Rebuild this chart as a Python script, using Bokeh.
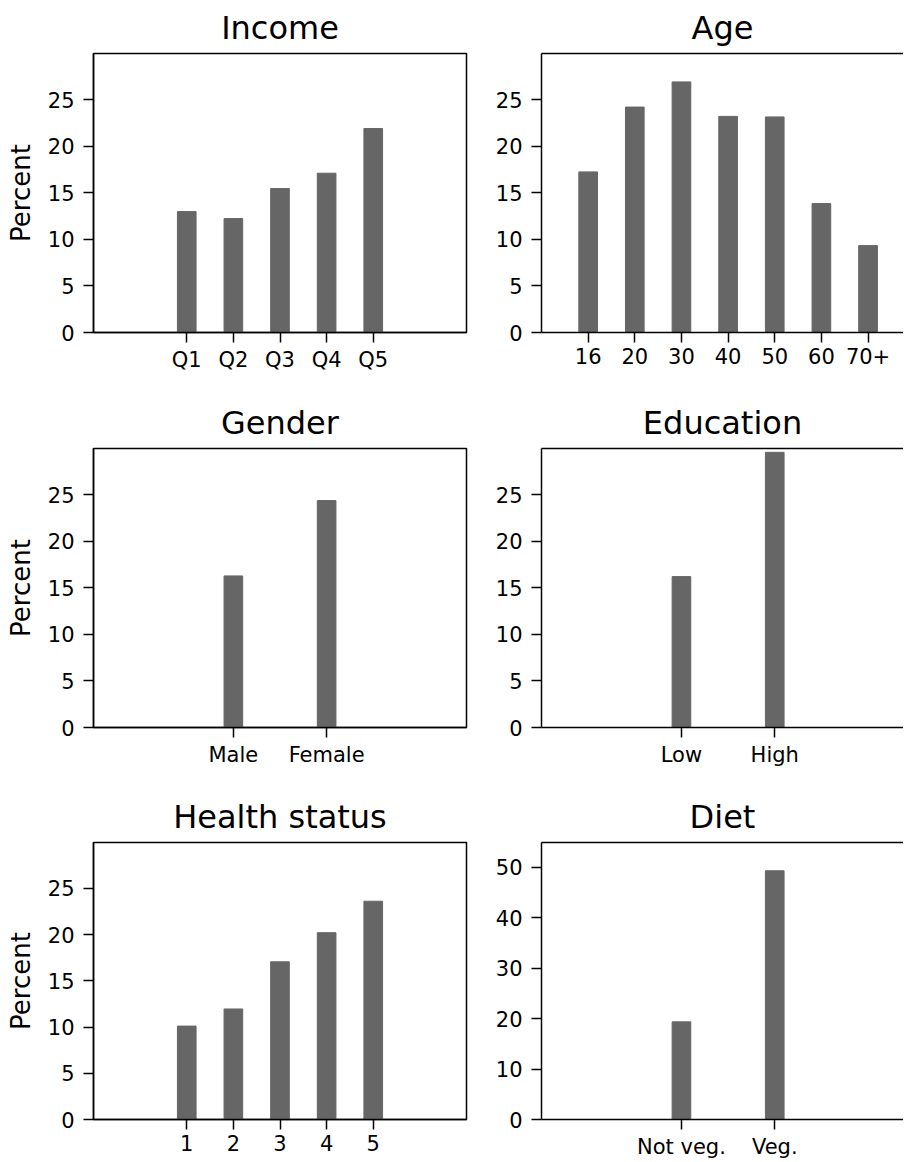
from bokeh.plotting import figure
from bokeh.layouts import column, row
from bokeh.models import FixedTicker, LinearAxis, Range1d
from bokeh.embed import file_html
from bokeh.resources import INLINE

income_labels = ["Q1", "Q2", "Q3", "Q4", "Q5"]
income_values = [12.98, 12.23, 15.45, 17.1, 21.9]
age_labels = ["16", "20", "30", "40", "50", "60", "70+"]
age_values = [17.24, 24.2, 26.9, 23.2, 23.14, 13.84, 9.33]
gender_labels = ["Male", "Female"]
gender_values = [16.27, 24.36]
education_labels = ["Low", "High"]
education_values = [16.2, 29.54]
health_labels = ["1", "2", "3", "4", "5"]
health_values = [10.1, 11.95, 17.05, 20.2, 23.6]
diet_labels = ["Not veg.", "Veg."]
diet_values = [19.35, 49.3]

pct_ticks = [0, 5, 10, 15, 20, 25]
diet_ticks = [0, 10, 20, 30, 40, 50]

FONT = "DejaVu Sans"
BAR = "#666666"


def make(title, labels, values, xr, y_end, yticks, bw, left, height, btop, bbot):
    width = 480 if left else 423
    p = figure(width=width, height=height, output_backend="svg", toolbar_location=None,
               x_range=Range1d(*xr), y_range=Range1d(0, y_end),
               min_border_left=93 if left else 61, min_border_right=14 if left else 0,
               min_border_top=btop, min_border_bottom=bbot, title=title)
    xs = list(range(len(values)))
    p.vbar(x=xs, top=values, width=bw, bottom=0, fill_color=BAR, line_color=BAR)
    p.grid.visible = False
    p.background_fill_color = "white"
    p.border_fill_color = "white"
    xax = p.below[0]
    yax = p.left[0]
    if left:
        p.outline_line_color = "black"
        p.outline_line_width = 1.5
    else:
        p.outline_line_color = None
        top = LinearAxis(ticker=FixedTicker(ticks=[]),
                         axis_line_color="black", axis_line_width=1.5,
                         major_tick_out=0, major_tick_in=0, minor_tick_out=0, minor_tick_in=0,
                         major_label_standoff=0)
        p.add_layout(top, "above")
    p.title.text_font = FONT
    p.title.text_font_size = "32px"
    p.title.text_font_style = "normal"
    p.title.text_color = "black"
    p.title.align = "center"
    p.title.standoff = 13
    if not left:
        p.title.offset = 7
    xax.ticker = FixedTicker(ticks=xs)
    xax.major_label_overrides = {i: l for i, l in zip(xs, labels)}
    yax.ticker = FixedTicker(ticks=yticks)
    for ax in (xax, yax):
        ax.axis_line_color = "black"
        ax.axis_line_width = 1.5
        ax.major_tick_line_color = "black"
        ax.major_tick_line_width = 1.5
        ax.major_tick_out = 10
        ax.major_tick_in = 0
        ax.minor_tick_line_color = None
        ax.major_label_text_font = FONT
        ax.major_label_text_font_size = "21px"
        ax.major_label_text_color = "black"
    xax.major_label_standoff = 5
    yax.major_label_standoff = 9
    if left:
        yax.axis_label = "Percent"
        yax.axis_label_text_font = FONT
        yax.axis_label_text_font_size = "26px"
        yax.axis_label_text_font_style = "normal"
        yax.axis_label_text_color = "black"
        yax.axis_label_standoff = 9
    return p


p1 = make("Income", income_labels, income_values, (-2, 6), 29.95, pct_ticks, 0.4, True, 395, 52, 63)
p2 = make("Age", age_labels, age_values, (-1, 6.76), 29.95, pct_ticks, 0.4, False, 395, 52, 63)
p3 = make("Gender", gender_labels, gender_values, (-1.5, 2.5), 29.95, pct_ticks, 0.2, True, 394, 52, 62)
p4 = make("Education", education_labels, education_values, (-1.5, 2.38), 29.95, pct_ticks, 0.2, False, 394, 52, 62)
p5 = make("Health status", health_labels, health_values, (-2, 6), 29.95, pct_ticks, 0.4, True, 372, 52, 41)
p6 = make("Diet", diet_labels, diet_values, (-1.5, 2.38), 54.9, diet_ticks, 0.2, False, 372, 52, 41)

layout = column(row(p1, p2), row(p3, p4), row(p5, p6))
open("out.html", "w").write(file_html(layout, INLINE))
